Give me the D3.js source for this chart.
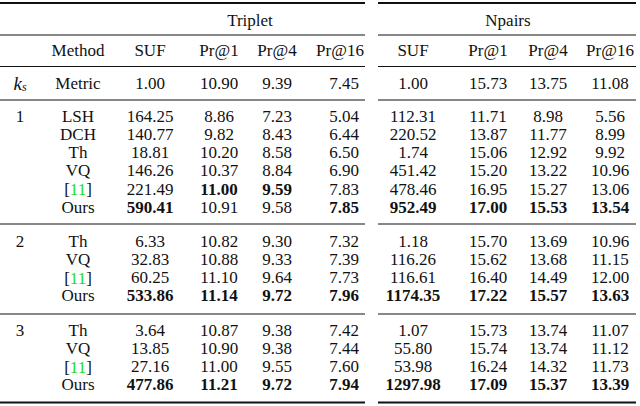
<!DOCTYPE html><html><head><meta charset="utf-8">
<script src="https://cdn.jsdelivr.net/npm/d3@7"></script>
<style>body{margin:0;background:#fff}text{font-family:"Liberation Serif","DejaVu Serif",serif;font-size:17px;fill:#111}</style>
</head><body><svg id="c" width="640" height="406"></svg>
<script>
const groups=["1","2","3"];
const methods=[["LSH","DCH","Th","VQ","[11]","Ours"],["Th","VQ","[11]","Ours"],["Th","VQ","[11]","Ours"]];
const tripletVals=[
[["164.25","8.86","7.23","5.04"],["140.77","9.82","8.43","6.44"],["18.81","10.20","8.58","6.50"],["146.26","10.37","8.84","6.90"],["221.49","11.00","9.59","7.83"],["590.41","10.91","9.58","7.85"]],
[["6.33","10.82","9.30","7.32"],["32.83","10.88","9.33","7.39"],["60.25","11.10","9.64","7.73"],["533.86","11.14","9.72","7.96"]],
[["3.64","10.87","9.38","7.42"],["13.85","10.90","9.38","7.44"],["27.16","11.00","9.55","7.60"],["477.86","11.21","9.72","7.94"]]];
const tripletBold=[[[],[],[],[],[1,2],[0,3]],[[],[],[],[0,1,2,3]],[[],[],[],[0,1,2,3]]];
const npairsVals=[
[["112.31","11.71","8.98","5.56"],["220.52","13.87","11.77","8.99"],["1.74","15.06","12.92","9.92"],["451.42","15.20","13.22","10.96"],["478.46","16.95","15.27","13.06"],["952.49","17.00","15.53","13.54"]],
[["1.18","15.70","13.69","10.96"],["116.26","15.62","13.68","11.15"],["116.61","16.40","14.49","12.00"],["1174.35","17.22","15.57","13.63"]],
[["1.07","15.73","13.74","11.07"],["55.80","15.74","13.74","11.12"],["53.98","16.24","14.32","11.73"],["1297.98","17.09","15.37","13.39"]]];
const npairsBold=[[[],[],[],[],[],[0,1,2,3]],[[],[],[],[0,1,2,3]],[[],[],[],[0,1,2,3]]];
const headers=["SUF","Pr@1","Pr@4","Pr@16"];
const metricTriplet=["1.00","10.90","9.39","7.45"];
const metricNpairs=["1.00","15.73","13.75","11.08"];

const svg=d3.select("#c");
const colX=d3.scaleOrdinal().domain(["ks","m","t0","t1","t2","t3","n0","n1","n2","n3"]).range([20,78,150,219,277,340,413,488,548,610]);
const rowH=18.3;
const y=d3.scaleLinear().domain([0,1]).range([0,rowH]);
function txt(x,yy,s,opt={}){
  const t=svg.append("text").attr("x",x).attr("y",yy).attr("text-anchor",opt.anchor||"middle").attr("dominant-baseline","central");
  if(opt.bold)t.style("font-weight","bold");
  if(s==="[11]"){t.append("tspan").text("[");t.append("tspan").style("fill","#22dd22").text("11");t.append("tspan").text("]");}
  else t.text(s);
  return t;
}
function line(x1,x2,yy,w){svg.append("line").attr("x1",x1).attr("x2",x2).attr("y1",yy).attr("y2",yy).attr("stroke","#111").attr("stroke-width",w);}
const L=[0,365],R=[378,636];
[L,R].forEach(s=>{line(s[0],s[1],3,2.2);line(s[0],s[1],66.5,1);line(s[0],s[1],100,1.2);line(s[0],s[1],224,1);line(s[0],s[1],314,1);line(s[0],s[1],402.5,2.2);});
line(0,365,35,1);line(378,636,35,1);
txt(250,20,"Triplet");txt(508,20,"Npairs");
txt(colX("m"),50,"Method");
headers.forEach((h,i)=>{txt(colX("t"+i),50,h);txt(colX("n"+i),50,h);});
const ks=txt(colX("ks"),83,"");ks.append("tspan").style("font-style","italic").style("font-size","19px").text("k");ks.append("tspan").style("font-style","italic").style("font-size","12px").attr("dy",4).text("s");
txt(colX("m"),83,"Metric");
function valX(p,i){return p==="t"&&i===3?[359,"end"]:[colX(p+i),"middle"];}
metricTriplet.forEach((v,i)=>{const [x,a]=valX("t",i);txt(x,83,v,{anchor:a});});
metricNpairs.forEach((v,i)=>txt(colX("n"+i),83,v));
const starts=[116,241,330];
groups.forEach((g,gi)=>{
  txt(colX("ks"),starts[gi],g);
  methods[gi].forEach((m,ri)=>{
    const yy=starts[gi]+y(ri);
    txt(colX("m"),yy,m);
    tripletVals[gi][ri].forEach((v,i)=>{const [x,a]=valX("t",i);txt(x,yy,v,{anchor:a,bold:tripletBold[gi][ri].includes(i)});});
    npairsVals[gi][ri].forEach((v,i)=>txt(colX("n"+i),yy,v,{bold:npairsBold[gi][ri].includes(i)}));
  });
});
</script></body></html>
